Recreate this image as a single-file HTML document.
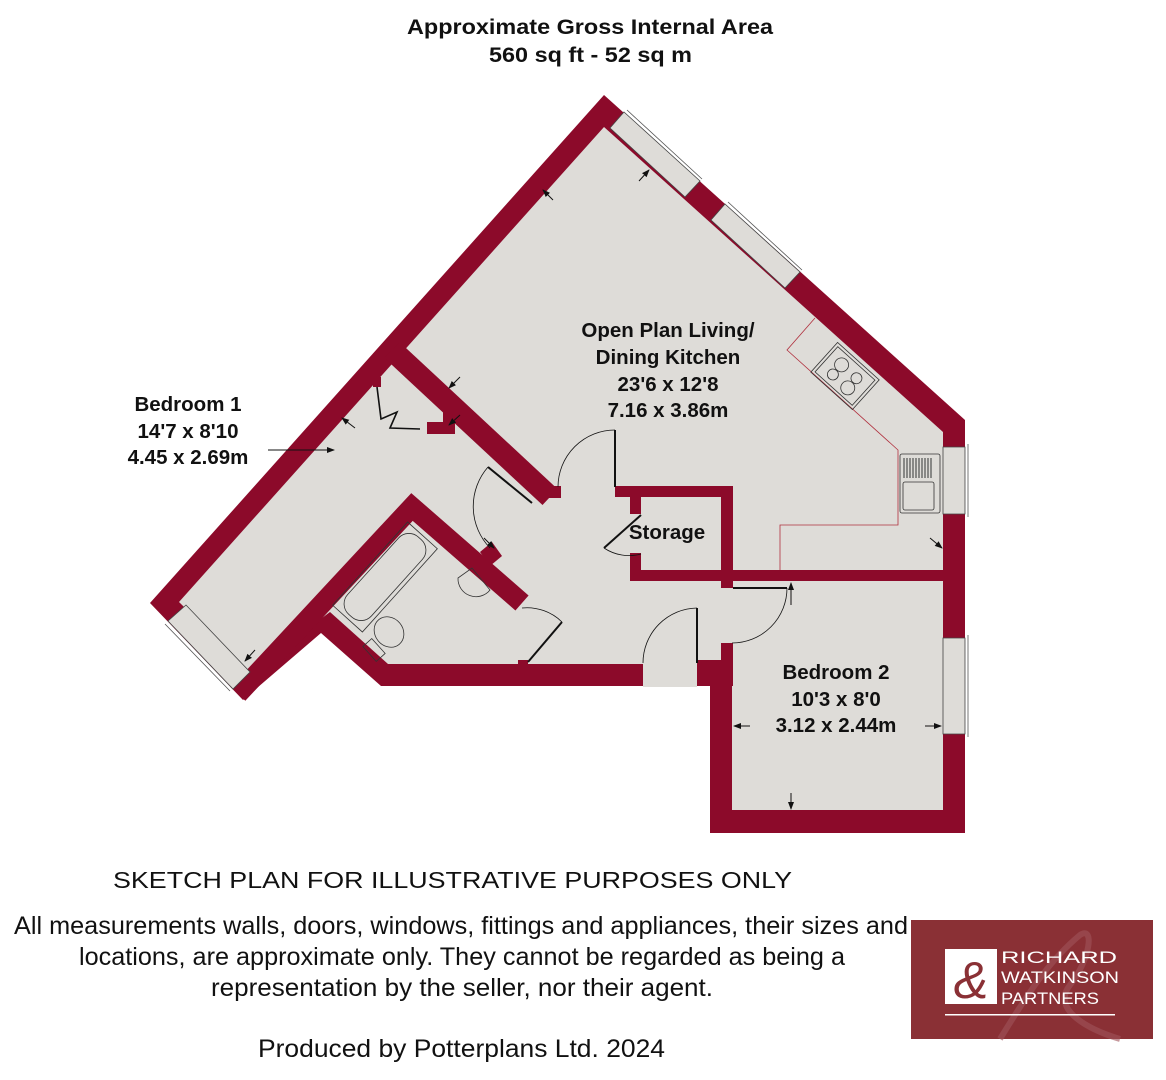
<!DOCTYPE html>
<html><head><meta charset="utf-8"><style>
html,body{margin:0;padding:0;background:#fff;}
svg{display:block;}
text{font-family:"Liberation Sans",Arial,sans-serif;}
</style></head><body>
<svg width="1166" height="1080" viewBox="0 0 1166 1080" xmlns="http://www.w3.org/2000/svg">
<defs>
<marker id="ah" markerWidth="8" markerHeight="8" refX="7" refY="4" orient="auto" markerUnits="userSpaceOnUse">
<path d="M0,1 L8,4 L0,7 Z" fill="#111"/>
</marker>
</defs>
<!-- titles -->
<text x="407" y="34" font-size="21" font-weight="bold" fill="#111" textLength="366" lengthAdjust="spacingAndGlyphs">Approximate Gross Internal Area</text>
<text x="489" y="62" font-size="21" font-weight="bold" fill="#111" textLength="203" lengthAdjust="spacingAndGlyphs">560 sq ft - 52 sq m</text>

<!-- outer walls -->
<polygon points="604,95 965,420 965,833 710,833 710,686 381,686 321,633 243,700 150,603" fill="#8c0a2a"/>
<!-- floor -->
<polygon points="604,127 943,432 943,810 732,810 732,664 388,664 330,612 250,672 179,602" fill="#dedcd8"/>

<!-- interior walls -->
<g stroke="#8c0a2a" fill="none" stroke-linejoin="miter">
  <polyline points="238,694 412,507 522,603" stroke-width="20"/>
  <polyline points="392,350 550,497" stroke-width="22"/>
  <polyline points="449,401 449,428 427,428" stroke-width="12"/>
</g>
<g fill="#8c0a2a">
  <rect x="548" y="486" width="13" height="12"/>
  <rect x="373" y="377" width="8" height="10"/>
  <polygon points="480,552 492,542 502,556 490,566"/>
  <rect x="518" y="660" width="10" height="5"/>
  <rect x="615" y="486" width="118" height="11"/>
  <rect x="721" y="486" width="12" height="102"/>
  <rect x="630" y="497" width="11" height="17"/>
  <rect x="630" y="553" width="11" height="27"/>
  <rect x="630" y="570" width="313" height="11"/>
  <rect x="721" y="643" width="12" height="43"/>
  <rect x="697" y="660" width="36" height="26"/>
</g>
<rect x="643" y="663" width="54" height="24" fill="#dedcd8"/>

<!-- windows -->
<g fill="#dedcd8" stroke="#444" stroke-width="0.8">
  <polygon points="624,112 700,181 685,197 610,128"/>
  <polygon points="725,204 800,272 785,288 711,220"/>
  <polygon points="943,447 965,447 965,514 943,514"/>
  <polygon points="943,638 965,638 965,734 943,734"/>
  <polygon points="168,621 233,689 250,672 186,605"/>
</g>
<g stroke="#555" stroke-width="0.8" fill="none">
  <line x1="627" y1="110" x2="702" y2="179"/>
  <line x1="728" y1="202" x2="802" y2="270"/>
  <line x1="968" y1="444" x2="968" y2="517"/>
  <line x1="968" y1="635" x2="968" y2="737"/>
  <line x1="165" y1="624" x2="230" y2="691"/>
</g>

<!-- doors -->
<g stroke="#111" fill="none">
  <line x1="615" y1="430" x2="615" y2="487" stroke-width="2"/>
  <path d="M615,430 A57,57 0 0 0 558,487" stroke-width="0.8"/>
  <line x1="488" y1="467" x2="532" y2="503" stroke-width="2"/>
  <path d="M488,467 A60,60 0 0 0 490,548" stroke-width="0.8"/>
  <line x1="641" y1="515" x2="604" y2="548" stroke-width="2"/>
  <path d="M604,548 A45,45 0 0 0 641,554" stroke-width="0.8"/>
  <line x1="733" y1="588" x2="787" y2="588" stroke-width="2"/>
  <path d="M787,588 A55,55 0 0 1 732,643" stroke-width="0.8"/>
  <line x1="697" y1="608" x2="697" y2="663" stroke-width="2"/>
  <path d="M697,608 A55,55 0 0 0 643,663" stroke-width="0.8"/>
  <line x1="528" y1="662" x2="562" y2="622" stroke-width="2"/>
  <path d="M562,622 A50,50 0 0 0 522,608" stroke-width="0.8"/>
  <polyline points="377,387 381,419 397,412 390,428 420,429" stroke-width="1.6"/>
</g>

<!-- kitchen -->
<g stroke="#b0303e" stroke-width="0.8" fill="none">
  <polyline points="815,318 787,350 898,450 898,525 780,525 780,570"/>
</g>
<g stroke="#333" stroke-width="0.8" fill="none">
  <g transform="translate(845,376) rotate(42)">
    <rect x="-28" y="-20" width="56" height="40"/>
    <rect x="-25" y="-17" width="50" height="34"/>
    <circle cx="-10" cy="-6" r="7"/><circle cx="10" cy="-6" r="5.5"/>
    <circle cx="-10" cy="7" r="5.5"/><circle cx="10" cy="7" r="7"/>
  </g>
  <rect x="900" y="454" width="40" height="59" rx="2"/>
  <rect x="903" y="482" width="31" height="28" rx="2"/>
  <g stroke-width="1">
    <line x1="904" y1="458" x2="904" y2="478"/><line x1="907" y1="458" x2="907" y2="478"/>
    <line x1="910" y1="458" x2="910" y2="478"/><line x1="913" y1="458" x2="913" y2="478"/>
    <line x1="916" y1="458" x2="916" y2="478"/><line x1="919" y1="458" x2="919" y2="478"/>
    <line x1="922" y1="458" x2="922" y2="478"/><line x1="925" y1="458" x2="925" y2="478"/>
    <line x1="928" y1="458" x2="928" y2="478"/><line x1="931" y1="458" x2="931" y2="478"/>
  </g>
  <g transform="translate(385,577) rotate(-48)">
    <rect x="-52" y="-16" width="104" height="32" rx="14"/>
    <rect x="-56" y="-20" width="112" height="40"/>
  </g>
  <ellipse cx="389" cy="632" rx="14" ry="16" transform="rotate(-40 389 632)"/>
  <rect x="368" y="640" width="12" height="20" transform="rotate(-42 374 650)"/>
  <path d="M458,578 A18,18 0 0 0 490,590 L472,568 Z"/>
</g>

<!-- dimension arrows -->
<g stroke="#111" stroke-width="1" marker-end="url(#ah)">
  <line x1="268" y1="450" x2="334" y2="450"/>
  <line x1="355" y1="428" x2="342" y2="418"/>
  <line x1="460" y1="377" x2="449" y2="388"/>
  <line x1="460" y1="415" x2="449" y2="425"/>
  <line x1="553" y1="200" x2="543" y2="190"/>
  <line x1="639" y1="181" x2="649" y2="170"/>
  <line x1="930" y1="538" x2="942" y2="548"/>
  <line x1="484" y1="538" x2="494" y2="548"/>
  <line x1="791" y1="605" x2="791" y2="583"/>
  <line x1="750" y1="726" x2="734" y2="726"/>
  <line x1="925" y1="726" x2="941" y2="726"/>
  <line x1="791" y1="793" x2="791" y2="809"/>
  <line x1="255" y1="650" x2="245" y2="661"/>
</g>

<!-- room labels -->
<g font-size="20.5" font-weight="bold" fill="#111" text-anchor="middle">
  <text x="188" y="411">Bedroom 1</text>
  <text x="188" y="438">14'7 x 8'10</text>
  <text x="188" y="464">4.45 x 2.69m</text>
  <text x="668" y="337">Open Plan Living/</text>
  <text x="668" y="364">Dining Kitchen</text>
  <text x="668" y="391">23'6 x 12'8</text>
  <text x="668" y="417">7.16 x 3.86m</text>
  <text x="667" y="539">Storage</text>
  <text x="836" y="679">Bedroom 2</text>
  <text x="836" y="706">10'3 x 8'0</text>
  <text x="836" y="732">3.12 x 2.44m</text>
</g>

<!-- footer text -->
<g fill="#111">
  <text x="113" y="888" font-size="23" textLength="679" lengthAdjust="spacingAndGlyphs">SKETCH PLAN FOR ILLUSTRATIVE PURPOSES ONLY</text>
  <text x="14" y="934" font-size="25" textLength="894" lengthAdjust="spacingAndGlyphs">All measurements walls, doors, windows, fittings and appliances, their sizes and</text>
  <text x="79" y="965" font-size="25" textLength="766" lengthAdjust="spacingAndGlyphs">locations, are approximate only. They cannot be regarded as being a</text>
  <text x="211" y="996" font-size="25" textLength="502" lengthAdjust="spacingAndGlyphs">representation by the seller, nor their agent.</text>
  <text x="258" y="1057" font-size="25" textLength="407" lengthAdjust="spacingAndGlyphs">Produced by Potterplans Ltd. 2024</text>
</g>

<!-- logo -->
<rect x="911" y="920" width="242" height="119" fill="#8a3035"/>
<path d="M1000,1039 C1030,990 1050,960 1080,935 C1095,925 1090,960 1070,985 C1050,1010 1090,1030 1120,1039" stroke="#a0545a" stroke-width="6" fill="none" opacity="0.6"/>
<rect x="945" y="949" width="52" height="55" fill="#fff"/>
<text x="971" y="998" font-family="'Liberation Serif',serif" font-size="52" font-style="italic" fill="#8a3035" text-anchor="middle">&amp;</text>
<g font-family="'Liberation Serif',serif" fill="#fff">
  <text x="1001" y="963" font-size="17" textLength="116" lengthAdjust="spacingAndGlyphs">RICHARD</text>
  <text x="1001" y="983" font-size="17" textLength="118" lengthAdjust="spacingAndGlyphs">WATKINSON</text>
  <text x="1001" y="1004" font-size="17" textLength="98" lengthAdjust="spacingAndGlyphs">PARTNERS</text>
</g>
<rect x="945" y="1014" width="170" height="1.5" fill="#fff"/>
</svg>
</body></html>
